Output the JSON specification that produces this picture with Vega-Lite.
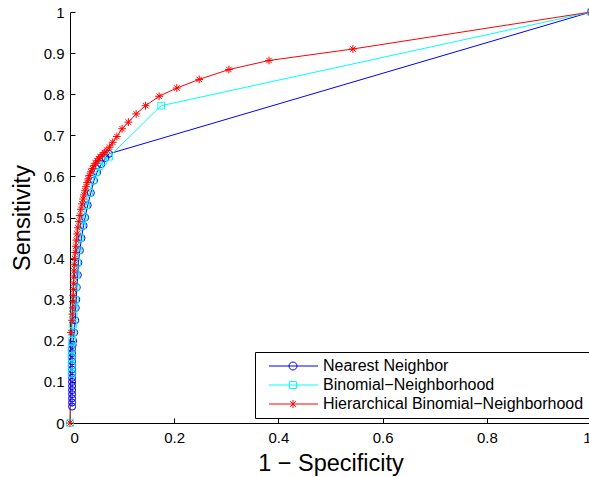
{
  "$schema": "https://vega.github.io/schema/vega-lite/v6.json",
  "autosize": {"type": "none"},
  "padding": {"left": 70, "top": 12, "right": 0, "bottom": 54},
  "width": 521,
  "height": 411,
  "background": "white",
  "datasets": {
    "roc": [
      {"series": "Nearest Neighbor", "fpr": 0.004, "tpr": 0.04},
      {"series": "Nearest Neighbor", "fpr": 0.004, "tpr": 0.05},
      {"series": "Nearest Neighbor", "fpr": 0.004, "tpr": 0.06},
      {"series": "Nearest Neighbor", "fpr": 0.004, "tpr": 0.07},
      {"series": "Nearest Neighbor", "fpr": 0.004, "tpr": 0.08},
      {"series": "Nearest Neighbor", "fpr": 0.004, "tpr": 0.09},
      {"series": "Nearest Neighbor", "fpr": 0.004, "tpr": 0.1},
      {"series": "Nearest Neighbor", "fpr": 0.004, "tpr": 0.11},
      {"series": "Nearest Neighbor", "fpr": 0.004, "tpr": 0.12},
      {"series": "Nearest Neighbor", "fpr": 0.004, "tpr": 0.13},
      {"series": "Nearest Neighbor", "fpr": 0.004, "tpr": 0.14},
      {"series": "Nearest Neighbor", "fpr": 0.004, "tpr": 0.15},
      {"series": "Nearest Neighbor", "fpr": 0.004, "tpr": 0.16},
      {"series": "Nearest Neighbor", "fpr": 0.004, "tpr": 0.17},
      {"series": "Nearest Neighbor", "fpr": 0.004, "tpr": 0.18},
      {"series": "Nearest Neighbor", "fpr": 0.005, "tpr": 0.19},
      {"series": "Nearest Neighbor", "fpr": 0.006, "tpr": 0.2},
      {"series": "Nearest Neighbor", "fpr": 0.008, "tpr": 0.22},
      {"series": "Nearest Neighbor", "fpr": 0.01, "tpr": 0.25},
      {"series": "Nearest Neighbor", "fpr": 0.011, "tpr": 0.28},
      {"series": "Nearest Neighbor", "fpr": 0.012, "tpr": 0.3},
      {"series": "Nearest Neighbor", "fpr": 0.013, "tpr": 0.33},
      {"series": "Nearest Neighbor", "fpr": 0.015, "tpr": 0.36},
      {"series": "Nearest Neighbor", "fpr": 0.016, "tpr": 0.39},
      {"series": "Nearest Neighbor", "fpr": 0.019, "tpr": 0.42},
      {"series": "Nearest Neighbor", "fpr": 0.022, "tpr": 0.45},
      {"series": "Nearest Neighbor", "fpr": 0.026, "tpr": 0.48},
      {"series": "Nearest Neighbor", "fpr": 0.029, "tpr": 0.5},
      {"series": "Nearest Neighbor", "fpr": 0.034, "tpr": 0.53},
      {"series": "Nearest Neighbor", "fpr": 0.04, "tpr": 0.56},
      {"series": "Nearest Neighbor", "fpr": 0.046, "tpr": 0.59},
      {"series": "Nearest Neighbor", "fpr": 0.052, "tpr": 0.61},
      {"series": "Nearest Neighbor", "fpr": 0.06, "tpr": 0.63},
      {"series": "Nearest Neighbor", "fpr": 0.068, "tpr": 0.645},
      {"series": "Nearest Neighbor", "fpr": 0.075, "tpr": 0.655},
      {"series": "Nearest Neighbor", "fpr": 1, "tpr": 1},
      {"series": "Binomial−Neighborhood", "fpr": 0, "tpr": 0},
      {"series": "Binomial−Neighborhood", "fpr": 0.003, "tpr": 0.12},
      {"series": "Binomial−Neighborhood", "fpr": 0.003, "tpr": 0.14},
      {"series": "Binomial−Neighborhood", "fpr": 0.003, "tpr": 0.16},
      {"series": "Binomial−Neighborhood", "fpr": 0.003, "tpr": 0.18},
      {"series": "Binomial−Neighborhood", "fpr": 0.004, "tpr": 0.2},
      {"series": "Binomial−Neighborhood", "fpr": 0.005, "tpr": 0.22},
      {"series": "Binomial−Neighborhood", "fpr": 0.006, "tpr": 0.24},
      {"series": "Binomial−Neighborhood", "fpr": 0.007, "tpr": 0.26},
      {"series": "Binomial−Neighborhood", "fpr": 0.0085, "tpr": 0.28},
      {"series": "Binomial−Neighborhood", "fpr": 0.0095, "tpr": 0.3},
      {"series": "Binomial−Neighborhood", "fpr": 0.011, "tpr": 0.33},
      {"series": "Binomial−Neighborhood", "fpr": 0.012, "tpr": 0.36},
      {"series": "Binomial−Neighborhood", "fpr": 0.014, "tpr": 0.39},
      {"series": "Binomial−Neighborhood", "fpr": 0.016, "tpr": 0.42},
      {"series": "Binomial−Neighborhood", "fpr": 0.019, "tpr": 0.45},
      {"series": "Binomial−Neighborhood", "fpr": 0.023, "tpr": 0.48},
      {"series": "Binomial−Neighborhood", "fpr": 0.026, "tpr": 0.5},
      {"series": "Binomial−Neighborhood", "fpr": 0.031, "tpr": 0.53},
      {"series": "Binomial−Neighborhood", "fpr": 0.037, "tpr": 0.56},
      {"series": "Binomial−Neighborhood", "fpr": 0.044, "tpr": 0.59},
      {"series": "Binomial−Neighborhood", "fpr": 0.05, "tpr": 0.61},
      {"series": "Binomial−Neighborhood", "fpr": 0.056, "tpr": 0.625},
      {"series": "Binomial−Neighborhood", "fpr": 0.064, "tpr": 0.638},
      {"series": "Binomial−Neighborhood", "fpr": 0.075, "tpr": 0.648},
      {"series": "Binomial−Neighborhood", "fpr": 0.175, "tpr": 0.772},
      {"series": "Binomial−Neighborhood", "fpr": 1, "tpr": 1},
      {"series": "Hierarchical Binomial−Neighborhood", "fpr": 0, "tpr": 0},
      {"series": "Hierarchical Binomial−Neighborhood", "fpr": 0.002, "tpr": 0.22},
      {"series": "Hierarchical Binomial−Neighborhood", "fpr": 0.004, "tpr": 0.25},
      {"series": "Hierarchical Binomial−Neighborhood", "fpr": 0.0045, "tpr": 0.265},
      {"series": "Hierarchical Binomial−Neighborhood", "fpr": 0.005, "tpr": 0.28},
      {"series": "Hierarchical Binomial−Neighborhood", "fpr": 0.0055, "tpr": 0.295},
      {"series": "Hierarchical Binomial−Neighborhood", "fpr": 0.006, "tpr": 0.31},
      {"series": "Hierarchical Binomial−Neighborhood", "fpr": 0.0065, "tpr": 0.325},
      {"series": "Hierarchical Binomial−Neighborhood", "fpr": 0.007, "tpr": 0.34},
      {"series": "Hierarchical Binomial−Neighborhood", "fpr": 0.0072, "tpr": 0.355},
      {"series": "Hierarchical Binomial−Neighborhood", "fpr": 0.0077, "tpr": 0.37},
      {"series": "Hierarchical Binomial−Neighborhood", "fpr": 0.0082, "tpr": 0.385},
      {"series": "Hierarchical Binomial−Neighborhood", "fpr": 0.009, "tpr": 0.4},
      {"series": "Hierarchical Binomial−Neighborhood", "fpr": 0.01, "tpr": 0.415},
      {"series": "Hierarchical Binomial−Neighborhood", "fpr": 0.011, "tpr": 0.43},
      {"series": "Hierarchical Binomial−Neighborhood", "fpr": 0.012, "tpr": 0.445},
      {"series": "Hierarchical Binomial−Neighborhood", "fpr": 0.0135, "tpr": 0.46},
      {"series": "Hierarchical Binomial−Neighborhood", "fpr": 0.015, "tpr": 0.475},
      {"series": "Hierarchical Binomial−Neighborhood", "fpr": 0.017, "tpr": 0.49},
      {"series": "Hierarchical Binomial−Neighborhood", "fpr": 0.019, "tpr": 0.505},
      {"series": "Hierarchical Binomial−Neighborhood", "fpr": 0.021, "tpr": 0.52},
      {"series": "Hierarchical Binomial−Neighborhood", "fpr": 0.023, "tpr": 0.533},
      {"series": "Hierarchical Binomial−Neighborhood", "fpr": 0.025, "tpr": 0.545},
      {"series": "Hierarchical Binomial−Neighborhood", "fpr": 0.027, "tpr": 0.555},
      {"series": "Hierarchical Binomial−Neighborhood", "fpr": 0.029, "tpr": 0.565},
      {"series": "Hierarchical Binomial−Neighborhood", "fpr": 0.031, "tpr": 0.575},
      {"series": "Hierarchical Binomial−Neighborhood", "fpr": 0.033, "tpr": 0.585},
      {"series": "Hierarchical Binomial−Neighborhood", "fpr": 0.035, "tpr": 0.594},
      {"series": "Hierarchical Binomial−Neighborhood", "fpr": 0.037, "tpr": 0.602},
      {"series": "Hierarchical Binomial−Neighborhood", "fpr": 0.04, "tpr": 0.611},
      {"series": "Hierarchical Binomial−Neighborhood", "fpr": 0.043, "tpr": 0.619},
      {"series": "Hierarchical Binomial−Neighborhood", "fpr": 0.046, "tpr": 0.626},
      {"series": "Hierarchical Binomial−Neighborhood", "fpr": 0.049, "tpr": 0.632},
      {"series": "Hierarchical Binomial−Neighborhood", "fpr": 0.052, "tpr": 0.638},
      {"series": "Hierarchical Binomial−Neighborhood", "fpr": 0.055, "tpr": 0.643},
      {"series": "Hierarchical Binomial−Neighborhood", "fpr": 0.058, "tpr": 0.648},
      {"series": "Hierarchical Binomial−Neighborhood", "fpr": 0.062, "tpr": 0.653},
      {"series": "Hierarchical Binomial−Neighborhood", "fpr": 0.066, "tpr": 0.658},
      {"series": "Hierarchical Binomial−Neighborhood", "fpr": 0.071, "tpr": 0.664},
      {"series": "Hierarchical Binomial−Neighborhood", "fpr": 0.076, "tpr": 0.671},
      {"series": "Hierarchical Binomial−Neighborhood", "fpr": 0.082, "tpr": 0.683},
      {"series": "Hierarchical Binomial−Neighborhood", "fpr": 0.09, "tpr": 0.697},
      {"series": "Hierarchical Binomial−Neighborhood", "fpr": 0.1, "tpr": 0.716},
      {"series": "Hierarchical Binomial−Neighborhood", "fpr": 0.112, "tpr": 0.732},
      {"series": "Hierarchical Binomial−Neighborhood", "fpr": 0.127, "tpr": 0.752},
      {"series": "Hierarchical Binomial−Neighborhood", "fpr": 0.145, "tpr": 0.772},
      {"series": "Hierarchical Binomial−Neighborhood", "fpr": 0.171, "tpr": 0.795},
      {"series": "Hierarchical Binomial−Neighborhood", "fpr": 0.205, "tpr": 0.815},
      {"series": "Hierarchical Binomial−Neighborhood", "fpr": 0.248, "tpr": 0.836},
      {"series": "Hierarchical Binomial−Neighborhood", "fpr": 0.305, "tpr": 0.86},
      {"series": "Hierarchical Binomial−Neighborhood", "fpr": 0.382, "tpr": 0.882},
      {"series": "Hierarchical Binomial−Neighborhood", "fpr": 0.543, "tpr": 0.91},
      {"series": "Hierarchical Binomial−Neighborhood", "fpr": 1, "tpr": 1}
    ]
  },
  "data": {"name": "roc"},
  "encoding": {
    "x": {
      "field": "fpr", "type": "quantitative",
      "scale": {"domain": [0, 1], "nice": false, "zero": false},
      "axis": {
        "title": "1 − Specificity", "values": [0, 0.2, 0.4, 0.6, 0.8, 1], "format": "~g",
        "grid": false, "tickSize": -5, "labelPadding": 12, "titlePadding": 6
      }
    },
    "y": {
      "field": "tpr", "type": "quantitative",
      "scale": {"domain": [0, 1], "nice": false, "zero": false},
      "axis": {
        "title": "Sensitivity", "values": [0, 0.1, 0.2, 0.3, 0.4, 0.5, 0.6, 0.7, 0.8, 0.9, 1], "format": "~g",
        "grid": false, "tickSize": -5, "labelPadding": 11, "titlePadding": 9
      }
    },
    "color": {
      "field": "series", "type": "nominal",
      "scale": {
        "domain": ["Nearest Neighbor", "Binomial−Neighborhood", "Hierarchical Binomial−Neighborhood"],
        "range": ["#0000ff", "#00ffff", "#ff0000"]
      },
      "legend": {
        "title": null, "orient": "none", "legendX": 185, "legendY": 340,
        "strokeColor": "black", "fillColor": "white", "padding": 6,
        "symbolSize": 100, "symbolStrokeWidth": 1, "labelFontSize": 16, "labelLimit": 400,
        "labelFont": "Liberation Sans", "labelColor": "black", "rowPadding": 3, "labelOffset": 46
      }
    }
  },
  "layer": [
    {
      "mark": {"type": "line", "strokeWidth": 1, "clip": false},
      "encoding": {"order": {"value": null}}
    },
    {
      "transform": [{"filter": "datum.series == 'Nearest Neighbor'"}],
      "mark": {"type": "point", "shape": "circle", "filled": false, "size": 50, "strokeWidth": 1, "opacity": 1}
    },
    {
      "transform": [{"filter": "datum.series == 'Binomial−Neighborhood'"}],
      "mark": {"type": "point", "shape": "square", "filled": false, "size": 45, "strokeWidth": 1, "opacity": 1}
    },
    {
      "transform": [{"filter": "datum.series == 'Hierarchical Binomial−Neighborhood'"}],
      "mark": {"type": "point", "shape": "M-1,0H1M0,-1V1M-0.7,-0.7L0.7,0.7M-0.7,0.7L0.7,-0.7", "filled": false, "size": 60, "strokeWidth": 1, "opacity": 1}
    },
    {
      "transform": [{"filter": "datum.fpr < -1"}],
      "mark": {"type": "point", "filled": false, "strokeWidth": 1, "opacity": 1},
      "encoding": {
        "shape": {
          "field": "series", "type": "nominal",
          "scale": {
            "domain": ["Nearest Neighbor", "Binomial−Neighborhood", "Hierarchical Binomial−Neighborhood"],
            "range": [
              "M0,0H9.8M4,0A0.8,0.8 0 1,0 5.6,0A0.8,0.8 0 1,0 4,0",
              "M0,0H9.8M4.1,-0.7H5.5V0.7H4.1Z",
              "M0,0H9.8M4.8,-0.8V0.8M4.23,-0.57L5.37,0.57M4.23,0.57L5.37,-0.57"
            ]
          },
          "legend": {"title": null}
        }
      }
    }
  ],
  "config": {
    "view": {"stroke": null},
    "font": "Liberation Sans",
    "axis": {
      "domainColor": "black", "tickColor": "black", "labelColor": "black", "titleColor": "black",
      "labelFont": "Liberation Sans", "labelFontSize": 15, "titleFont": "Liberation Sans",
      "titleFontSize": 23.5, "titleFontWeight": "normal", "domainWidth": 1, "tickWidth": 1
    }
  }
}
